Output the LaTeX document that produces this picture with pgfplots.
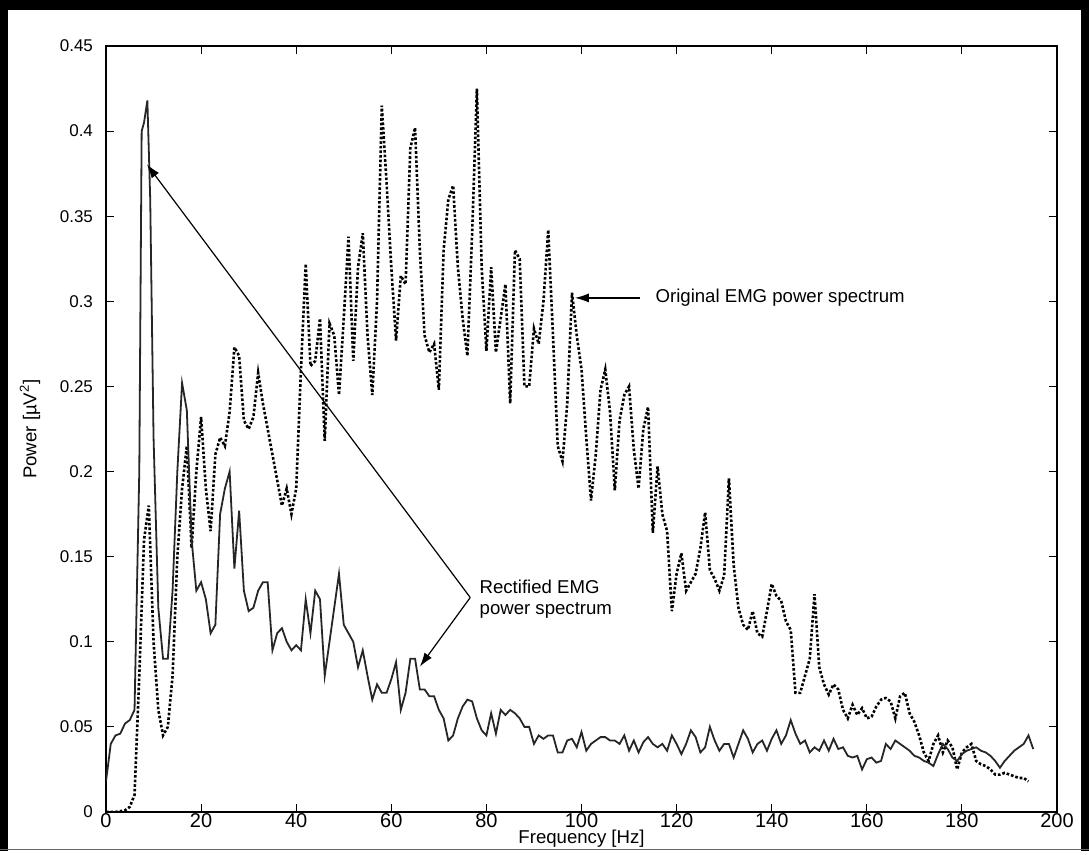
\documentclass[border=0pt]{standalone}
\usepackage{fontspec}
\setmainfont{Liberation Sans}
\usepackage{pgfplots}
\pgfplotsset{compat=1.18}
\usetikzlibrary{arrows.meta}

\pgfplotstableread{
f P
0 0.000
2 0.000
4 0.001
5 0.003
6 0.010
7 0.080
8 0.160
8.5 0.170
9 0.180
10 0.100
11 0.060
12 0.045
13 0.050
14 0.080
15 0.150
16 0.190
17 0.215
18 0.155
19 0.200
20 0.232
21 0.190
22 0.165
23 0.210
24 0.220
25 0.215
26 0.235
27 0.273
28 0.268
29 0.230
30 0.225
31 0.232
32 0.258
33 0.240
34 0.225
35 0.210
36 0.195
37 0.180
38 0.190
39 0.175
40 0.190
41 0.260
42 0.322
43 0.262
44 0.265
45 0.290
46 0.218
47 0.287
48 0.280
49 0.245
50 0.290
51 0.338
52 0.265
53 0.320
54 0.340
55 0.280
56 0.245
57 0.300
58 0.415
59 0.370
60 0.320
61 0.277
62 0.315
63 0.310
64 0.390
65 0.402
66 0.330
67 0.280
68 0.270
69 0.275
70 0.248
71 0.330
72 0.360
73 0.368
74 0.320
75 0.290
76 0.268
77 0.340
78 0.425
79 0.320
80 0.271
81 0.320
82 0.270
83 0.290
84 0.310
85 0.240
86 0.330
87 0.325
88 0.250
89 0.250
90 0.284
91 0.275
92 0.300
93 0.342
94 0.280
95 0.215
96 0.206
97 0.240
98 0.305
99 0.280
100 0.260
101 0.220
102 0.183
103 0.210
104 0.248
105 0.260
106 0.235
107 0.189
108 0.230
109 0.245
110 0.250
111 0.213
112 0.190
113 0.225
114 0.238
115 0.164
116 0.203
117 0.175
118 0.165
119 0.118
120 0.140
121 0.152
122 0.130
123 0.135
124 0.140
125 0.155
126 0.176
127 0.142
128 0.137
129 0.130
130 0.139
131 0.196
132 0.145
133 0.120
134 0.110
135 0.107
136 0.118
137 0.105
138 0.103
139 0.118
140 0.134
141 0.127
142 0.124
143 0.112
144 0.107
145 0.070
146 0.070
147 0.080
148 0.090
149 0.128
150 0.085
151 0.075
152 0.069
153 0.075
154 0.072
155 0.060
156 0.055
157 0.063
158 0.057
159 0.061
160 0.055
161 0.056
162 0.062
163 0.066
164 0.067
165 0.065
166 0.055
167 0.068
168 0.070
169 0.058
170 0.053
171 0.045
172 0.035
173 0.030
174 0.040
175 0.045
176 0.035
177 0.042
178 0.038
179 0.025
180 0.035
181 0.038
182 0.040
183 0.030
184 0.028
185 0.027
186 0.025
187 0.022
188 0.022
189 0.023
190 0.022
191 0.021
192 0.020
193 0.020
194 0.018
}\original

\pgfplotstableread{
f P
0 0.018
1 0.040
2 0.045
3 0.046
4 0.052
5 0.054
6 0.060
7 0.200
7.5 0.400
8 0.405
8.7 0.418
9.3 0.360
10 0.220
11 0.120
12 0.090
13 0.090
14 0.130
15 0.200
16 0.252
17 0.236
18 0.160
19 0.130
20 0.135
21 0.125
22 0.105
23 0.110
24 0.175
25 0.190
26 0.200
27 0.143
28 0.177
29 0.130
30 0.118
31 0.120
32 0.130
33 0.135
34 0.135
35 0.095
36 0.105
37 0.108
38 0.100
39 0.095
40 0.098
41 0.095
42 0.125
43 0.105
44 0.130
45 0.125
46 0.080
47 0.100
48 0.120
49 0.140
50 0.110
51 0.105
52 0.100
53 0.085
54 0.095
55 0.080
56 0.066
57 0.075
58 0.070
59 0.070
60 0.078
61 0.088
62 0.060
63 0.070
64 0.090
65 0.090
66 0.072
67 0.072
68 0.068
69 0.068
70 0.060
71 0.055
72 0.042
73 0.045
74 0.055
75 0.062
76 0.066
77 0.065
78 0.055
79 0.048
80 0.045
81 0.058
82 0.046
83 0.060
84 0.057
85 0.060
86 0.058
87 0.055
88 0.050
89 0.050
90 0.040
91 0.045
92 0.043
93 0.045
94 0.045
95 0.035
96 0.035
97 0.042
98 0.043
99 0.038
100 0.047
101 0.036
102 0.040
103 0.042
104 0.044
105 0.044
106 0.042
107 0.042
108 0.040
109 0.045
110 0.036
111 0.042
112 0.035
113 0.041
114 0.044
115 0.040
116 0.038
117 0.040
118 0.036
119 0.045
120 0.040
121 0.034
122 0.040
123 0.048
124 0.044
125 0.035
126 0.038
127 0.050
128 0.042
129 0.036
130 0.040
131 0.040
132 0.032
133 0.040
134 0.048
135 0.043
136 0.035
137 0.040
138 0.042
139 0.036
140 0.043
141 0.048
142 0.040
143 0.045
144 0.054
145 0.046
146 0.040
147 0.042
148 0.035
149 0.038
150 0.036
151 0.042
152 0.036
153 0.043
154 0.037
155 0.038
156 0.033
157 0.032
158 0.033
159 0.025
160 0.031
161 0.032
162 0.029
163 0.030
164 0.040
165 0.037
166 0.042
167 0.040
168 0.038
169 0.036
170 0.033
171 0.032
172 0.030
173 0.029
174 0.027
175 0.034
176 0.040
177 0.037
178 0.032
179 0.030
180 0.034
181 0.036
182 0.037
183 0.038
184 0.036
185 0.035
186 0.033
187 0.030
188 0.026
189 0.030
190 0.033
191 0.036
192 0.038
193 0.040
194 0.045
195 0.037
}\rectified

\begin{document}
\begin{tikzpicture}
\begin{axis}[
  scale only axis,
  width=475.5pt, height=383pt,
  xmin=0, xmax=200, ymin=0, ymax=0.45,
  xtick={0,20,...,200},
  ytick={0,0.05,...,0.45},
  tick align=inside,
  major tick length=4pt,
  axis line style={line width=0.6pt},
  every tick/.style={black, line width=0.5pt},
  /pgf/number format/assume math mode=true,
  /pgf/number format/fixed,
  xticklabel style={font=\fontsize{10}{11}\selectfont, inner sep=1pt, yshift=0.5pt},
  yticklabel style={font=\fontsize{8.5}{10}\selectfont, xshift=-3pt},
  xlabel={Frequency [Hz]},
  ylabel={Power [µV\textsuperscript{2}]},
  label style={font=\fontsize{9.3}{11}\selectfont},
  xlabel style={at={(axis description cs:0.5,0)}, anchor=center, yshift=-13.5pt},
  ylabel style={at={(axis description cs:0,0.5)}, anchor=center, yshift=38pt},
  clip=true,
]
\addplot[black, line width=1.3pt, densely dotted] table[x=f, y=P] {\original};
\addplot[black!85, line width=0.9pt] table[x=f, y=P] {\rectified};

\draw[black, line width=0.6pt, -{Latex[length=7pt,width=4.5pt]}] (axis cs:76.6,0.126) -- (axis cs:8.6,0.3805);
\draw[black, line width=0.6pt, -{Latex[length=7pt,width=4.5pt]}] (axis cs:76.6,0.126) -- (axis cs:66,0.0854);
\node[anchor=west, align=left, font=\fontsize{9.3}{10.5}\selectfont, inner sep=0pt] at (axis cs:78.5,0.125) {Rectified EMG\\power spectrum};
\draw[black, line width=0.6pt, -{Latex[length=7pt,width=4.5pt]}] (axis cs:112.3,0.302) -- (axis cs:98.6,0.302);
\node[anchor=west, font=\fontsize{9.3}{11}\selectfont, inner sep=0pt] at (axis cs:115.5,0.302) {Original EMG power spectrum};
\end{axis}
\path[use as bounding box] ([xshift=-53pt,yshift=-19.5pt]current axis.south west) rectangle ([xshift=16pt,yshift=23pt]current axis.north east);
\fill[black] ([xshift=-53pt,yshift=18pt]current axis.north west) rectangle ([xshift=16pt,yshift=23pt]current axis.north east);
\fill[black] ([xshift=-53pt,yshift=-19.5pt]current axis.south west) rectangle ([xshift=-49pt,yshift=23pt]current axis.north west);
\fill[black] ([xshift=12pt,yshift=-19.5pt]current axis.south east) rectangle ([xshift=16pt,yshift=23pt]current axis.north east);
\draw[black!60, line width=0.6pt] ([xshift=-53pt,yshift=-18.8pt]current axis.south west) -- ([xshift=16pt,yshift=-18.8pt]current axis.south east);
\end{tikzpicture}
\end{document}
